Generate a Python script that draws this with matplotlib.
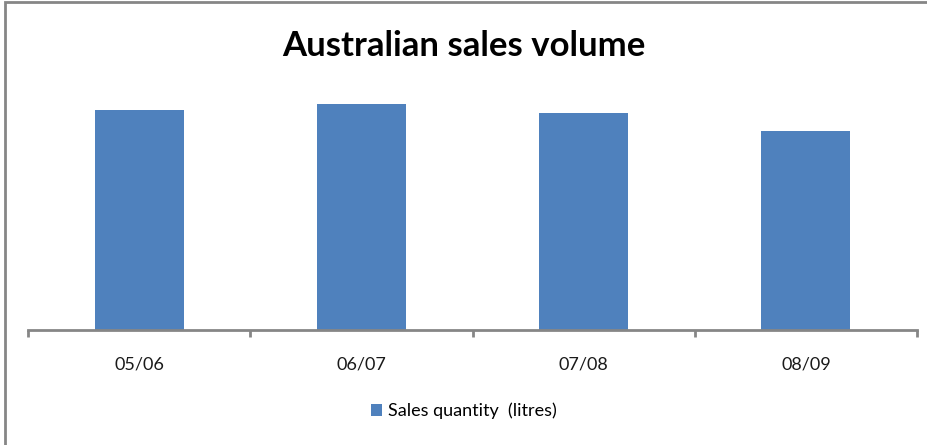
import numpy as np
import matplotlib.pyplot as plt
from matplotlib.patches import Rectangle

# Dados (sem escala no eixo y, valores relativos)
years = ["05/06", "06/07", "07/08", "08/09"]
sales = [220, 226, 217, 199]

plt.rcParams['font.family'] = ['Lato', 'DejaVu Sans']

fig = plt.figure(figsize=(9.27, 4.45), dpi=100)
ax = fig.add_axes([28 / 927, 1 - 330 / 445, (917 - 28) / 927, (330 - 78) / 445])

x = np.arange(len(years))
ax.bar(x, sales, width=0.4, color="#4f81bd", label="Sales quantity  (litres)", zorder=2)

ax.set_xlim(-0.5, len(years) - 0.5)
ax.set_ylim(0, 252)
ax.set_yticks([])

# ticks nas fronteiras das categorias, rótulos no centro
ax.set_xticks(np.arange(-0.5, len(years), 1.0))
ax.set_xticklabels([])
ax.set_xticks(x, minor=True)
ax.set_xticklabels(years, minor=True, fontsize=13, color="#1a1a1a")
ax.tick_params(axis="x", which="major", length=5, width=2, color="#868686", direction="out")
ax.tick_params(axis="x", which="minor", length=0, pad=19)

for s in ["top", "left", "right"]:
    ax.spines[s].set_visible(False)
ax.spines["bottom"].set_color("#868686")
ax.spines["bottom"].set_linewidth(2)

fig.text(0.5, 1 - 46 / 445, "Australian sales volume", ha="center", va="center",
         fontsize=25, fontweight="bold", color="#000000")

fig.legend(loc="center", bbox_to_anchor=(0.5, 1 - 411 / 445), frameon=False,
           fontsize=13, handlelength=0.65, handleheight=0.65, handletextpad=0.3)

# moldura do gráfico (estilo Excel)
fig.patches.append(Rectangle((5 / 927, -0.1), 1.2, 1.1 - 2 / 445, transform=fig.transFigure,
                             fill=False, edgecolor="#868686", linewidth=2))

fig.savefig("out.png", dpi=100, facecolor="white")
